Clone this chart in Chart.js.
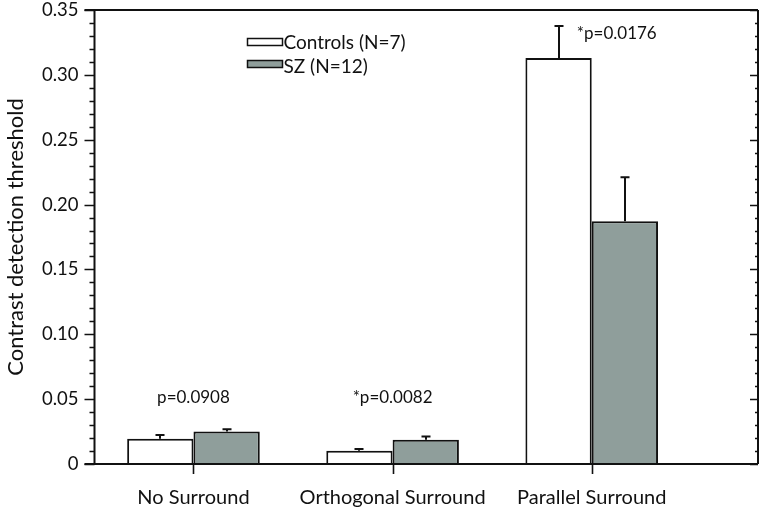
<!DOCTYPE html>
<html>
<head>
<meta charset="utf-8">
<script src="https://cdn.jsdelivr.net/npm/chart.js@4.4.1/dist/chart.umd.min.js"></script>
<style>
html,body{margin:0;padding:0;background:#fff;}
#wrap{width:762px;height:515px;position:relative;}
</style>
</head>
<body>
<div id="wrap"><canvas id="c" width="762" height="515"></canvas></div>
<script>
const categories = ['No Surround', 'Orthogonal Surround', 'Parallel Surround'];
const seriesNames = ['Controls (N=7)', 'SZ (N=12)'];
const controlsMean = [0.0194, 0.0102, 0.3129];
const controlsErr  = [0.0030, 0.0013, 0.0247];
const szMean       = [0.0251, 0.0187, 0.1872];
const szErr        = [0.0016, 0.0025, 0.0339];
const pLabels      = ['p=0.0908', '*p=0.0082', '*p=0.0176'];
const yTickValues  = [0, 0.05, 0.10, 0.15, 0.20, 0.25, 0.30, 0.35];
const yTitle       = 'Contrast detection threshold';

const FONT = 'Lato, "Liberation Sans", sans-serif';
const SZ_COLOR = '#8f9e9b';

const errors = [controlsErr, szErr];

const framePlugin = {
  id: 'frame',
  afterDatasetsDraw(chart) {
    const ctx = chart.ctx;
    const xs = chart.scales.x, ys = chart.scales.y;
    const L = xs.left, R = xs.right, T = ys.top, B = ys.bottom;
    ctx.save();
    ctx.strokeStyle = '#111';
    ctx.lineWidth = 2;
    ctx.lineCap = 'butt';
    // error bars
    chart.data.datasets.forEach((ds, di) => {
      const meta = chart.getDatasetMeta(di);
      meta.data.forEach((bar, i) => {
        const v = ds.data[i].y;
        const e = errors[di][i];
        const yTop = ys.getPixelForValue(v + e);
        const x = Math.round(bar.x);
        ctx.beginPath();
        ctx.moveTo(x, bar.y);
        ctx.lineTo(x, yTop);
        ctx.moveTo(x - 4.5, yTop);
        ctx.lineTo(x + 4.5, yTop);
        ctx.stroke();
      });
    });
    // frame
    ctx.beginPath();
    ctx.moveTo(L - 10, T); ctx.lineTo(R, T);
    ctx.moveTo(L - 10, B); ctx.lineTo(R, B);
    ctx.moveTo(L, T); ctx.lineTo(L, B);
    ctx.moveTo(R, T); ctx.lineTo(R, B);
    ctx.stroke();
    // y ticks (major every 0.05, minor every 0.01)
    ctx.lineWidth = 1.6;
    ctx.beginPath();
    for (let k = 0; k <= 35; k++) {
      const y = Math.round(ys.getPixelForValue(k / 100)) + 0.5;
      const len = (k % 5 === 0) ? 10 : 5;
      ctx.moveTo(L - len, y); ctx.lineTo(L, y);
      ctx.moveTo(R - len + 2, y); ctx.lineTo(R, y);
    }
    // x ticks at category centres
    for (let i = 1; i <= categories.length; i++) {
      const x = Math.round(xs.getPixelForValue(i)) + 0.5;
      ctx.moveTo(x, B); ctx.lineTo(x, B + 10);
    }
    ctx.stroke();
    // p-value annotations
    ctx.fillStyle = '#111';
    ctx.font = '17px ' + FONT;
    ctx.textBaseline = 'middle';
    ctx.textAlign = 'center';
    ctx.fillText(pLabels[0], xs.getPixelForValue(1), ys.getPixelForValue(0.0513));
    ctx.fillText(pLabels[1], xs.getPixelForValue(2), ys.getPixelForValue(0.0513));
    ctx.textAlign = 'left';
    ctx.fillText(pLabels[2], xs.getPixelForValue(2.925), ys.getPixelForValue(0.332));
    // legend
    const lx = 247.5, bw = 35, bh = 7;
    const rows = [{y: 38.5, fill: '#ffffff'}, {y: 60.5, fill: SZ_COLOR}];
    ctx.font = '19px ' + FONT;
    ctx.lineWidth = 1.5;
    rows.forEach((r, i) => {
      ctx.fillStyle = r.fill;
      ctx.fillRect(lx, r.y, bw, bh);
      ctx.strokeRect(lx, r.y, bw, bh);
      ctx.fillStyle = '#111';
      ctx.textAlign = 'left';
      ctx.textBaseline = 'middle';
      ctx.fillText(seriesNames[i], lx + bw + 1, r.y + bh / 2 + (i === 0 ? 1 : 3));
    });
    ctx.restore();
  }
};

new Chart(document.getElementById('c'), {
  type: 'bar',
  data: {
    datasets: [
      {
        label: seriesNames[0],
        data: controlsMean.map((v, i) => ({x: i + 1, y: v})),
        backgroundColor: '#ffffff',
        borderColor: '#111',
        borderWidth: 2,
        borderSkipped: 'bottom'
      },
      {
        label: seriesNames[1],
        data: szMean.map((v, i) => ({x: i + 1, y: v})),
        backgroundColor: SZ_COLOR,
        borderColor: '#111',
        borderWidth: 2,
        borderSkipped: 'bottom'
      }
    ]
  },
  options: {
    responsive: false,
    animation: false,
    categoryPercentage: 0.666,
    barPercentage: 1.0,
    layout: {padding: {top: 10, right: 4, left: 0, bottom: 0}},
    plugins: {legend: {display: false}, tooltip: {enabled: false}},
    scales: {
      x: {
        type: 'linear',
        offset: false,
        min: 0.503,
        max: 3.835,
        grid: {display: false, drawTicks: false},
        border: {display: false},
        afterBuildTicks: (s) => { s.ticks = categories.map((c, i) => ({value: i + 1})); },
        afterFit: (s) => { s.height = 51; s.paddingLeft = 0; s.paddingRight = 0; },
        ticks: {
          autoSkip: false,
          maxRotation: 0,
          padding: 22,
          color: '#111',
          font: {family: FONT, size: 20},
          callback: (v) => categories[v - 1]
        }
      },
      y: {
        min: 0,
        max: 0.35,
        grid: {display: false, drawTicks: false},
        border: {display: false},
        afterBuildTicks: (s) => { s.ticks = yTickValues.map(v => ({value: v})); },
        afterFit: (s) => { s.width = 94.5; s.paddingTop = 0; s.paddingBottom = 0; },
        title: {
          display: true,
          text: yTitle,
          color: '#111',
          font: {family: FONT, size: 22},
          padding: {top: 3, bottom: 4}
        },
        ticks: {
          padding: 16,
          color: '#111',
          font: {family: FONT, size: 18.5},
          callback: (v) => v === 0 ? '0' : v.toFixed(2)
        }
      }
    }
  },
  plugins: [framePlugin]
});
</script>
</body>
</html>
